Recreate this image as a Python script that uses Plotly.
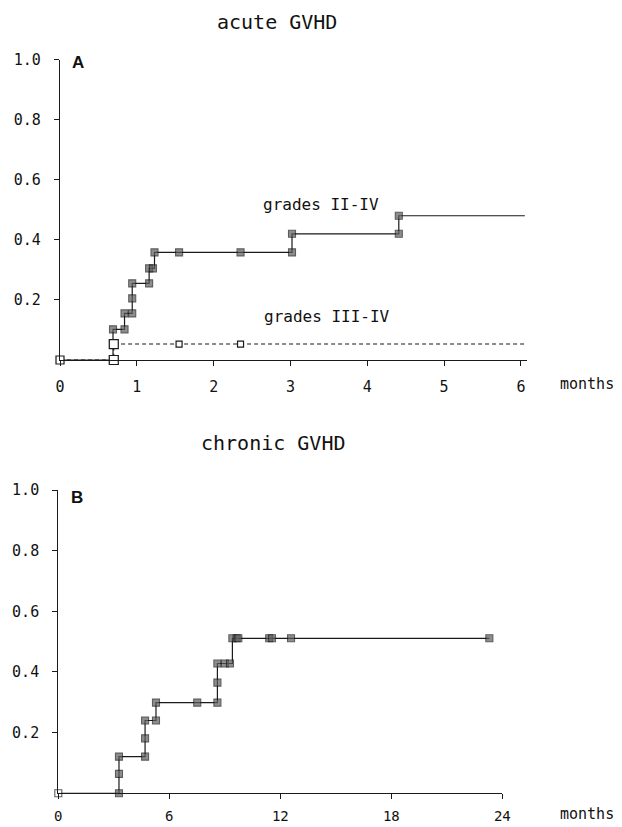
import plotly.graph_objects as go

# ---------------- data ----------------
# acute GVHD, grades II-IV: cumulative incidence step points (months, probability)
acute24_t = [0, 0.69, 0.69, 0.69, 0.84, 0.84, 0.94, 0.94, 0.94, 1.16, 1.16, 1.21, 1.23,
             1.55, 2.35, 3.02, 3.02, 4.41, 4.41]
acute24_p = [0, 0, 0.053, 0.102, 0.102, 0.155, 0.155, 0.205, 0.255, 0.255, 0.305, 0.305, 0.358,
             0.358, 0.358, 0.358, 0.42, 0.42, 0.48]
acute24_end = 6.05

# acute GVHD, grades III-IV
acute34_t = [0, 0.70, 0.70, 1.55, 2.35]
acute34_p = [0, 0, 0.053, 0.053, 0.053]
acute34_end = 6.08

# chronic GVHD
chronic_t = [0, 3.28, 3.28, 3.28, 4.69, 4.69, 4.69, 5.28, 5.28, 7.51, 8.6, 8.6, 8.6, 9.0, 9.28,
             9.41, 9.64, 9.73, 11.4, 11.55, 12.58, 23.3]
chronic_p = [0, 0, 0.064, 0.121, 0.121, 0.181, 0.24, 0.24, 0.299, 0.299, 0.299, 0.365, 0.428,
             0.428, 0.428, 0.511, 0.511, 0.511, 0.511, 0.511, 0.511, 0.511]

y_ticks = [0.2, 0.4, 0.6, 0.8, 1.0]
y_ticklabels = ["0.2", "0.4", "0.6", "0.8", "1.0"]
xA_ticks = [0, 1, 2, 3, 4, 5, 6]
xB_ticks = [0, 6, 12, 18, 24]

# ---------------- styling ----------------
OFF = 8               # default page body margin
W, H = 614, 819
MONO = "DejaVu Sans Mono"
LINE = "#1a1a1a"
FILL = "#5e5e5e"

def px_x(p):
    return (p - OFF) / W

def px_y(p):
    return 1 - (p - OFF) / H

fig = go.Figure()

# grades III-IV (dashed line)
fig.add_trace(go.Scatter(
    x=acute34_t + [acute34_end], y=acute34_p + [acute34_p[-1]],
    mode="lines", line=dict(color=LINE, width=1.1, dash="4px,3px", shape="hv"),
    xaxis="x", yaxis="y", cliponaxis=False, showlegend=False))

# grades II-IV (solid, filled squares)
n = len(acute24_t)
fig.add_trace(go.Scatter(
    x=acute24_t + [acute24_end], y=acute24_p + [acute24_p[-1]],
    mode="lines+markers", line=dict(color=LINE, width=1.2, shape="hv"),
    marker=dict(symbol="square", color=FILL, size=[0] + [7] * (n - 1) + [0],
                line=dict(color=LINE, width=1.1)),
    xaxis="x", yaxis="y", cliponaxis=False, showlegend=False))

# III-IV open markers on top
fig.add_trace(go.Scatter(
    x=acute34_t, y=acute34_p, mode="markers",
    marker=dict(symbol="square", color="white", opacity=1, size=[8, 9, 9, 6, 6],
                line=dict(color=LINE, width=1.2)),
    xaxis="x", yaxis="y", cliponaxis=False, showlegend=False))

# chronic
m = len(chronic_t)
fig.add_trace(go.Scatter(
    x=chronic_t, y=chronic_p,
    mode="lines+markers", line=dict(color=LINE, width=1.2, shape="hv"),
    marker=dict(symbol="square", color=["white"] + [FILL] * (m - 1),
                size=[7] * m, line=dict(color=LINE, width=1.1)),
    xaxis="x2", yaxis="y2", cliponaxis=False, showlegend=False))

axis_common = dict(showgrid=False, zeroline=False, showline=True, linecolor=LINE, linewidth=1.2,
                   ticks="outside", ticklen=5, tickwidth=1.2, tickcolor=LINE,
                   tickfont=dict(family=MONO, size=15, color="#111"), automargin=False,
                   fixedrange=True)

fig.update_layout(
    width=W, height=H, margin=dict(l=0, r=0, t=0, b=0),
    paper_bgcolor="white", plot_bgcolor="white",
    xaxis=dict(axis_common, domain=[px_x(60), px_x(527.1)], range=[0, 6.08],
               tickvals=xA_ticks, ticklabelstandoff=8, anchor="y"),
    yaxis=dict(axis_common, domain=[px_y(360), px_y(59.5)], range=[0, 1.0],
               tickvals=y_ticks, ticktext=y_ticklabels, ticklabelstandoff=10, anchor="x"),
    xaxis2=dict(axis_common, domain=[px_x(58.3), px_x(502.3)], range=[0, 24],
                tickvals=xB_ticks, ticklabelstandoff=5,
                tickfont=dict(family=MONO, size=14, color="#111"), anchor="y2"),
    yaxis2=dict(axis_common, domain=[px_y(793.3), px_y(490)], range=[0, 1.0],
                tickvals=y_ticks, ticktext=y_ticklabels, ticklabelstandoff=10, anchor="x2"),
)

def note(text, x, y, size, xref="paper", yref="paper", family=MONO, xanchor="center"):
    fig.add_annotation(text=text, x=x, y=y, xref=xref, yref=yref, showarrow=False,
                       font=dict(family=family, size=size, color="#111"),
                       xanchor=xanchor, yanchor="middle")

note("acute GVHD", px_x(277), px_y(22), 20)
note("chronic GVHD", px_x(273), px_y(443), 20)
note("<b>A</b>", px_x(78), px_y(63), 17, family="Liberation Sans")
note("<b>B</b>", px_x(77), px_y(497), 17, family="Liberation Sans")
note("months", px_x(587), px_y(384), 15)
note("months", px_x(587), px_y(814), 15)
note("grades II-IV", 3.40, 0.517, 16, xref="x", yref="y")
note("grades III-IV", 3.48, 0.144, 16, xref="x", yref="y")

fig.write_html("out.html")
